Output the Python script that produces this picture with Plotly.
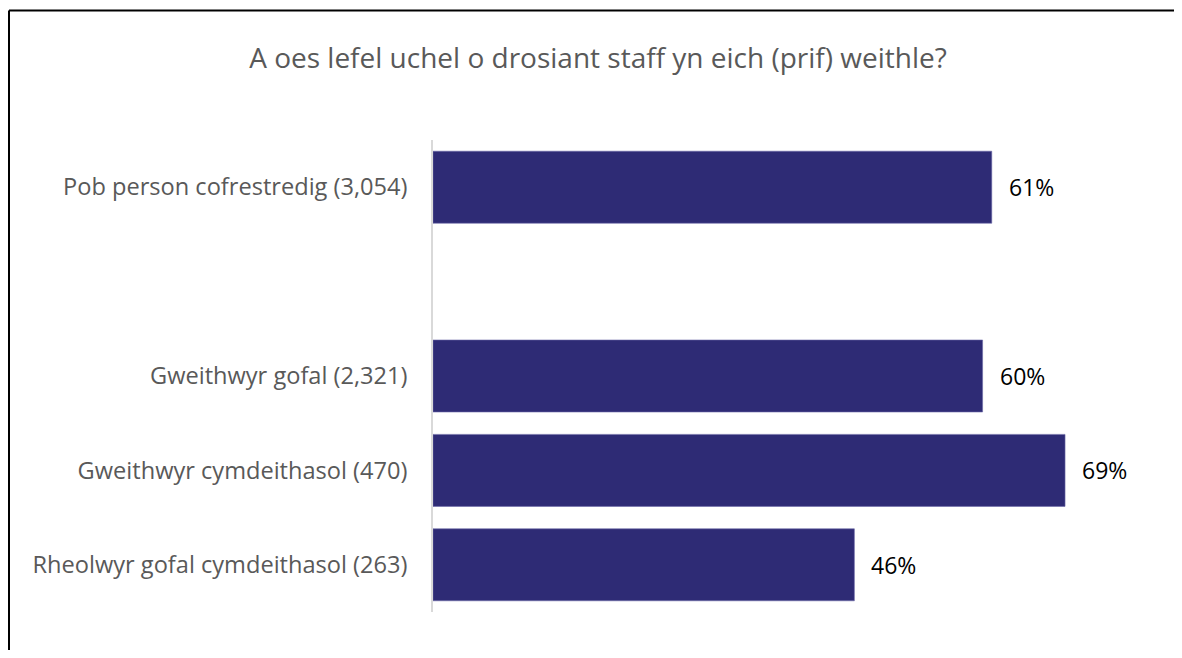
import plotly.graph_objects as go

categories = [
    "Pob person cofrestredig (3,054)",
    " ",
    "Gweithwyr gofal (2,321)",
    "Gweithwyr cymdeithasol (470)",
    "Rheolwyr gofal cymdeithasol (263)",
]
values = [61, None, 60, 69, 46]
labels = ["61%", "", "60%", "69%", "46%"]
title_text = "A oes lefel uchel o drosiant staff yn eich (prif) weithle?"

FONT = "Open Sans"
BAR = "#2E2B75"

# page has an 8px body margin; figure coords = page coords - 8
FW, FH = 1166, 642
L, T = 425, 132
R = FW - (1160 - 8)
B = FH - (612 - 8)
W = FW - L - R
H = FH - T - B
PX_PER = 9.16

fig = go.Figure(
    go.Bar(
        x=values,
        y=categories,
        orientation="h",
        marker=dict(color=BAR, line=dict(color="#6C6AA8", width=0.6)),
        hoverinfo="skip",
    )
)

for c, v, t in zip(categories, values, labels):
    if v is None:
        continue
    fig.add_annotation(
        x=v, y=c, text=t, showarrow=False,
        xanchor="left", yanchor="middle", xshift=15,
        font=dict(family=FONT, size=23, color="#000000"),
    )

fig.update_layout(
    width=FW,
    height=FH,
    margin=dict(l=L, r=R, t=T, b=B),
    paper_bgcolor="white",
    plot_bgcolor="white",
    bargap=0.237,
    showlegend=False,
    title=dict(
        text=title_text,
        font=dict(family=FONT, size=28, color="#595959"),
        x=590 / FW,
        xanchor="center",
        xref="container",
        yref="container",
        y=1 - 50 / FH,
        yanchor="middle",
    ),
)

fig.update_xaxes(
    range=[0, W / PX_PER],
    showgrid=False,
    zeroline=False,
    showticklabels=False,
    showline=False,
    fixedrange=True,
)
fig.update_yaxes(
    categoryorder="array",
    categoryarray=categories,
    autorange="reversed",
    showgrid=False,
    zeroline=False,
    showline=True,
    linecolor="#D9D9D9",
    linewidth=1.5,
    ticks="",
    ticklabelstandoff=19,
    tickfont=dict(family=FONT, size=23.6, color="#595959"),
    fixedrange=True,
)

# outer frame: top and left edges (the rest lies beyond the picture)
x_left = (1 - L) / W
y_top = 1 + (T - 2.5) / H
fig.add_shape(type="line", xref="paper", yref="paper",
              x0=x_left, x1=x_left + (FW + 20) / W, y0=y_top, y1=y_top,
              line=dict(color="black", width=2), layer="above")
fig.add_shape(type="line", xref="paper", yref="paper",
              x0=x_left, x1=x_left, y0=y_top, y1=-(B + 20) / H,
              line=dict(color="black", width=2), layer="above")

fig.write_html("out.html", config={"displayModeBar": False})
